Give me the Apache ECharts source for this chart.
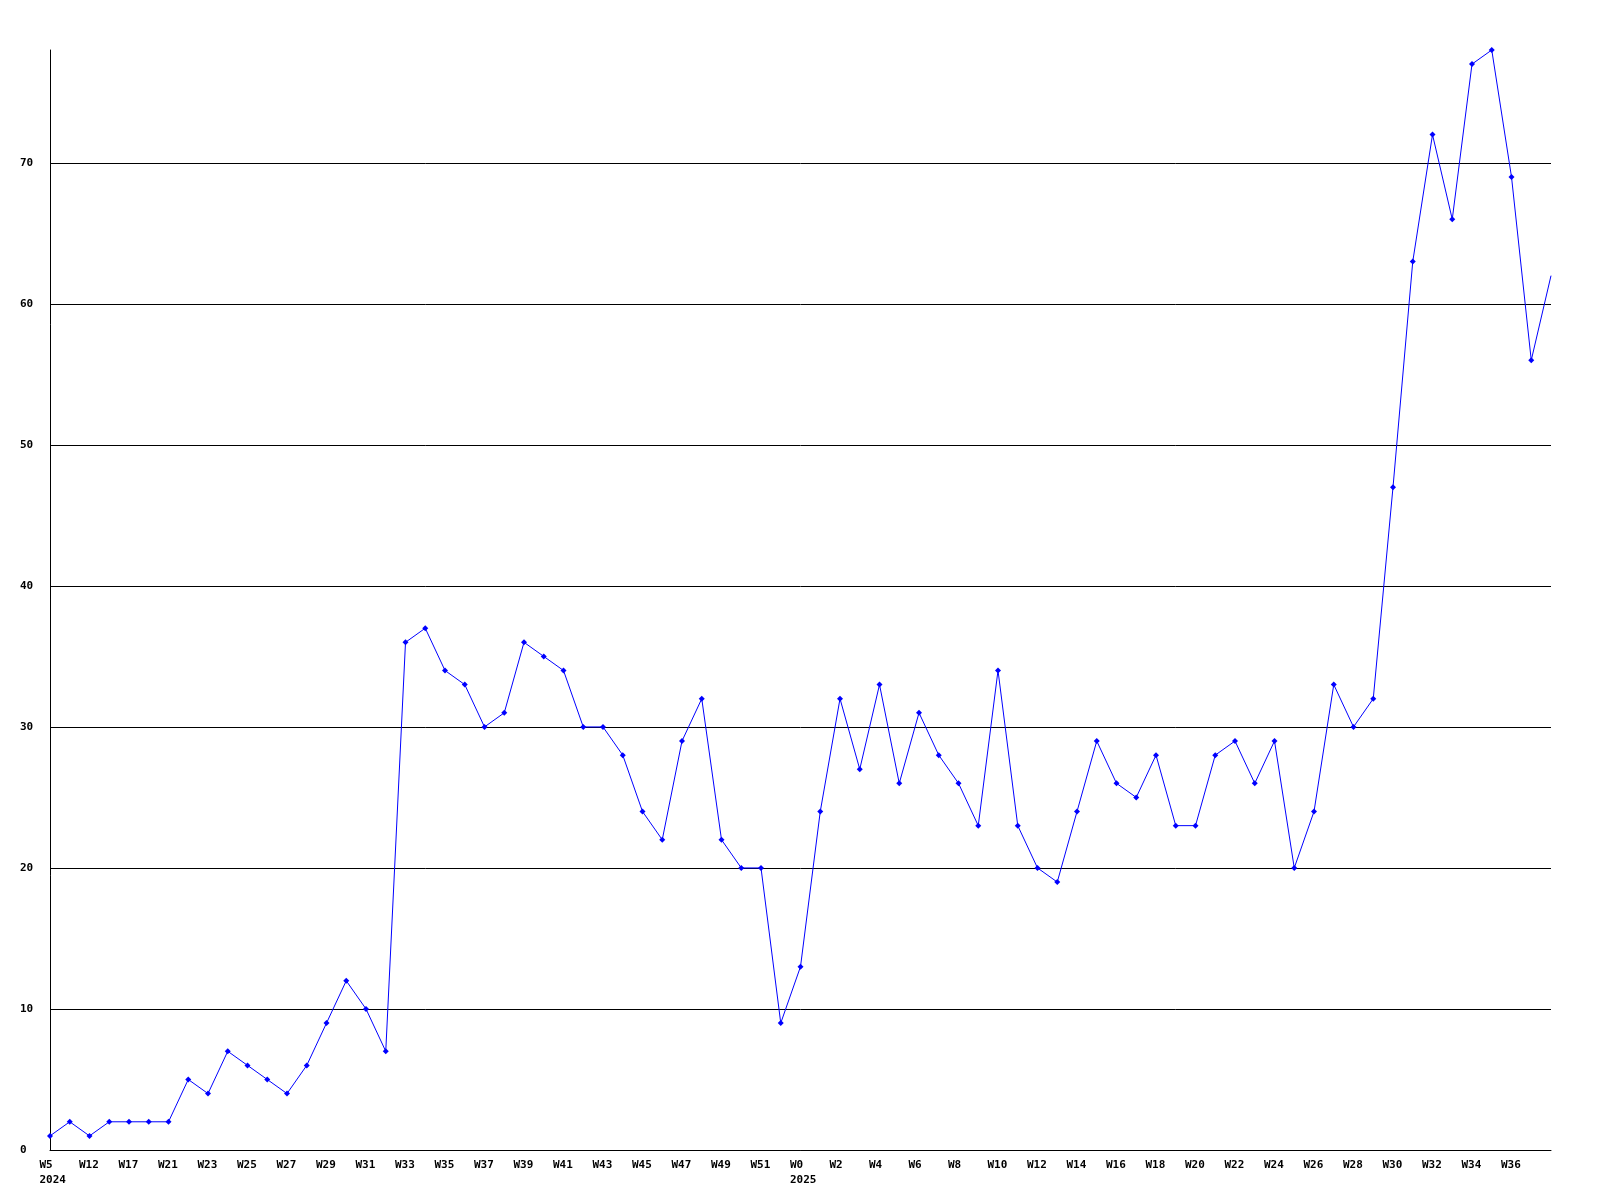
<!DOCTYPE html>
<html>
  <head>
    <meta charset="utf-8" />
    <title>Weekly line</title>
    <script src="https://cdn.jsdelivr.net/npm/echarts@6/dist/echarts.min.js"></script>
    <style>
      html, body { margin: 0; padding: 0; background: #fff; }
    </style>
  </head>
  <body>
    <div id="main" style="width: 1600px;height:1200px;"></div>
    <script type="text/javascript">
        // week labels (2024 starts sparse, then weekly; 2025 starts at W0)
        var weeks = [
            'W5', 'W8', 'W12', 'W14', 'W17', 'W19', 'W21', 'W22', 'W23', 'W24',
            'W25', 'W26', 'W27', 'W28', 'W29', 'W30', 'W31', 'W32', 'W33', 'W34',
            'W35', 'W36', 'W37', 'W38', 'W39', 'W40', 'W41', 'W42', 'W43', 'W44',
            'W45', 'W46', 'W47', 'W48', 'W49', 'W50', 'W51', 'W52',
            'W0', 'W1', 'W2', 'W3', 'W4', 'W5', 'W6', 'W7', 'W8', 'W9',
            'W10', 'W11', 'W12', 'W13', 'W14', 'W15', 'W16', 'W17', 'W18', 'W19',
            'W20', 'W21', 'W22', 'W23', 'W24', 'W25', 'W26', 'W27', 'W28', 'W29',
            'W30', 'W31', 'W32', 'W33', 'W34', 'W35', 'W36', 'W37', 'W38'
        ];
        // year shown under the first week of each year
        var years = { 0: '2024', 38: '2025' };

        var values = [
            1, 2, 1, 2, 2, 2, 2, 5, 4, 7,
            6, 5, 4, 6, 9, 12, 10, 7, 36, 37,
            34, 33, 30, 31, 36, 35, 34, 30, 30, 28,
            24, 22, 29, 32, 22, 20, 20, 9,
            13, 24, 32, 27, 33, 26, 31, 28, 26, 23,
            34, 23, 20, 19, 24, 29, 26, 25, 28, 23,
            23, 28, 29, 26, 29, 20, 24, 33, 30, 32,
            47, 63, 72, 66, 77, 78, 69, 56, 62
        ];

        var yTicks = { min: 0, max: 78, interval: 10 };

        var font = {
            color: '#000',
            fontFamily: 'DejaVu Sans Mono',
            fontWeight: 'bold',
            fontSize: 11
        };

        var myChart = echarts.init(document.getElementById('main'));

        var option = {
            animation: false,
            backgroundColor: '#fff',
            grid: { left: 50, right: 49, top: 50, bottom: 50 },
            xAxis: {
                type: 'category',
                data: weeks,
                boundaryGap: false,
                axisLine: { show: true, lineStyle: { color: '#000', width: 1 } },
                axisTick: { show: false },
                splitLine: { show: false },
                axisLabel: Object.assign({
                    interval: 1,
                    margin: 8,
                    lineHeight: 15,
                    width: 21,
                    align: 'center',
                    hideOverlap: false,
                    showMaxLabel: false,
                    rich: {
                        l: Object.assign({ align: 'left', lineHeight: 15 }, font)
                    },
                    formatter: function (val, idx) {
                        if (idx === weeks.length - 1) return '';
                        var s = '{l|' + val + '}';
                        return years[idx] ? s + '\n{l|' + years[idx] + '}' : s;
                    }
                }, font)
            },
            yAxis: {
                type: 'value',
                min: yTicks.min,
                max: yTicks.max,
                interval: yTicks.interval,
                axisLine: { show: true, lineStyle: { color: '#000', width: 1 } },
                axisTick: { show: false },
                splitLine: {
                    show: true,
                    showMaxLine: false,
                    lineStyle: { color: '#000', width: 1 }
                },
                axisLabel: Object.assign({
                    align: 'left',
                    margin: 30,
                    showMaxLabel: false
                }, font)
            },
            series: [{
                type: 'line',
                data: values,
                symbol: 'diamond',
                symbolSize: function (v, p) {
                    return p.dataIndex === values.length - 1 ? 0 : 6;
                },
                itemStyle: { color: '#0000ff' },
                lineStyle: { color: '#0000ff', width: 1 }
            }]
        };

        myChart.setOption(option);
    </script>
  </body>
</html>
